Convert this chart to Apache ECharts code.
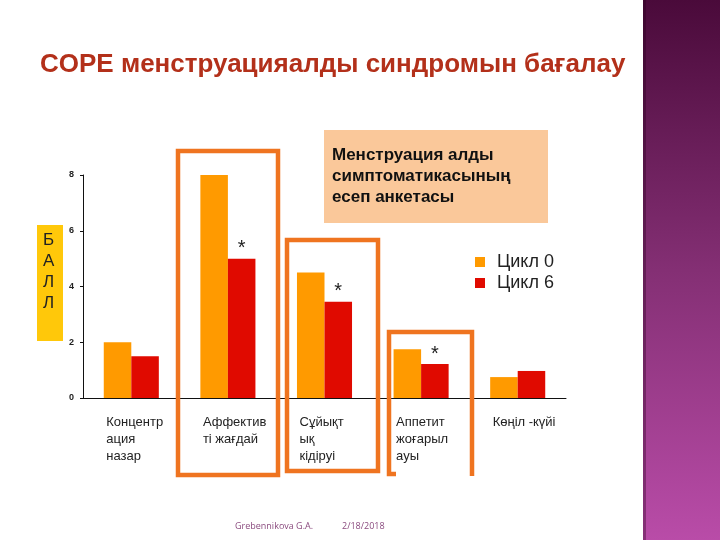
<!DOCTYPE html>
<html>
<head>
<meta charset="utf-8">
<script src="https://cdn.jsdelivr.net/npm/echarts@6/dist/echarts.min.js"></script>
<style>
  html, body { margin: 0; padding: 0; background: #fff; }
  #chart { width: 720px; height: 540px; }
</style>
</head>
<body>
<div id="chart"></div>
<script>
const categories = ['Концентр\nация\nназар', 'Аффектив\nті жағдай', 'Сұйықт\nық\nкідіруі', 'Аппетит\nжоғарыл\nауы', 'Көңіл -күйі']
const cycle0 = [2.0, 8.0, 4.5, 1.75, 0.75]
const cycle6 = [1.5, 5.0, 3.45, 1.22, 0.97]
const marks = ['', '*', '*', '*', '']
const seriesNames = ['Цикл 0', 'Цикл 6']

const myChart = echarts.init(document.getElementById('chart'))

const boxColor = '#ef7420'

const option = {
    animation: false,
    backgroundColor: '#fff',
    color: ['#ff9a00', '#e00a00'],
    title: {
        text: 'COPE менструацияалды синдромын бағалау',
        left: 35,
        top: 47,
        textStyle: {
            fontFamily: 'Liberation Sans',
            fontSize: 26,
            fontWeight: 'bold',
            color: '#b3301a',
        },
    },
    legend: {
        orient: 'vertical',
        left: 470,
        top: 248,
        itemWidth: 10,
        itemHeight: 10,
        itemGap: 3,
        icon: 'rect',
        data: seriesNames,
        textStyle: {
            fontFamily: 'Liberation Sans',
            fontSize: 18,
            color: '#222',
            padding: [0, 0, 0, 7],
        },
    },
    grid: {
        left: 83,
        right: 154,
        top: 175,
        bottom: 142,
    },
    xAxis: {
        type: 'category',
        data: categories,
        axisLine: { lineStyle: { color: '#111', width: 1 } },
        axisTick: { alignWithLabel: true, length: 4, lineStyle: { color: '#111' } },
        axisLabel: {
            interval: 0,
            margin: 16,
            formatter: val => val.split('\n').map(s => '{a|' + s + '}').join('\n'),
            rich: {
                a: {
                    width: 50,
                    align: 'left',
                    fontFamily: 'Liberation Sans',
                    fontSize: 13,
                    lineHeight: 17,
                    color: '#222',
                },
            },
        },
    },
    yAxis: {
        type: 'value',
        min: 0,
        max: 8,
        interval: 2,
        splitLine: { show: false },
        axisLine: { show: true, lineStyle: { color: '#111', width: 1 } },
        axisTick: { show: true, length: 3, lineStyle: { color: '#111' } },
        axisLabel: {
            margin: 9,
            fontFamily: 'Liberation Sans',
            fontSize: 9,
            fontWeight: 'bold',
            color: '#222',
        },
    },
    series: [
        {
            name: seriesNames[0],
            type: 'bar',
            data: cycle0,
            barGap: '0%',
            barCategoryGap: '43%',
        },
        {
            name: seriesNames[1],
            type: 'bar',
            data: cycle6,
            label: {
                show: true,
                position: 'top',
                distance: 0,
                formatter: p => marks[p.dataIndex],
                fontFamily: 'Liberation Sans',
                fontSize: 20,
                color: '#222',
            },
        },
    ],
    graphic: [
        // right decorative strip
        {
            type: 'rect',
            shape: { x: 643, y: 0, width: 77, height: 540 },
            style: {
                fill: new echarts.graphic.LinearGradient(0, 0, 0, 1, [
                    { offset: 0, color: '#4a0a3a' },
                    { offset: 0.5, color: '#842f74' },
                    { offset: 1, color: '#b94ca8' },
                ]),
            },
            z: 0,
        },
        {
            type: 'rect',
            shape: { x: 643, y: 0, width: 3, height: 540 },
            style: { fill: 'rgba(40,0,30,0.35)' },
            z: 1,
        },
        // info box
        {
            type: 'rect',
            shape: { x: 324, y: 130, width: 224, height: 93 },
            style: { fill: '#fac89a' },
            z: 1,
        },
        {
            type: 'text',
            left: 332,
            top: 145,
            style: {
                text: 'Менструация алды\nсимптоматикасының\nесеп анкетасы',
                fontFamily: 'Liberation Sans',
                fontSize: 17,
                fontWeight: 'bold',
                lineHeight: 21,
                fill: '#111',
            },
            z: 2,
        },
        // y axis label box
        {
            type: 'rect',
            shape: { x: 37, y: 225, width: 26, height: 116 },
            style: { fill: '#ffc80a' },
            z: 1,
        },
        {
            type: 'text',
            left: 43,
            top: 230,
            style: {
                text: 'Б\nА\nЛ\nЛ',
                fontFamily: 'Liberation Sans',
                fontSize: 17,
                lineHeight: 21,
                fill: '#222',
                align: 'center',
            },
            z: 2,
        },
        // highlight boxes
        {
            type: 'rect',
            shape: { x: 178, y: 151, width: 100, height: 324 },
            style: { fill: 'none', stroke: boxColor, lineWidth: 4.5 },
            z: 3,
        },
        {
            type: 'rect',
            shape: { x: 287, y: 240, width: 91, height: 231 },
            style: { fill: 'none', stroke: boxColor, lineWidth: 4.5 },
            z: 3,
        },
        {
            type: 'polyline',
            shape: { points: [[396, 474], [389, 474], [389, 332], [472, 332], [472, 476]] },
            style: { fill: 'none', stroke: boxColor, lineWidth: 4.5 },
            z: 3,
        },
        // footer
        {
            type: 'text',
            left: 235,
            top: 522,
            style: {
                text: 'Grebennikova G.A.',
                fontFamily: 'Open Sans',
                fontSize: 9,
                fill: '#8a4a7e',
            },
        },
        {
            type: 'text',
            left: 342,
            top: 522,
            style: {
                text: '2/18/2018',
                fontFamily: 'Open Sans',
                fontSize: 9,
                fill: '#8a4a7e',
            },
        },
    ],
}

myChart.setOption(option)
</script>
</body>
</html>
